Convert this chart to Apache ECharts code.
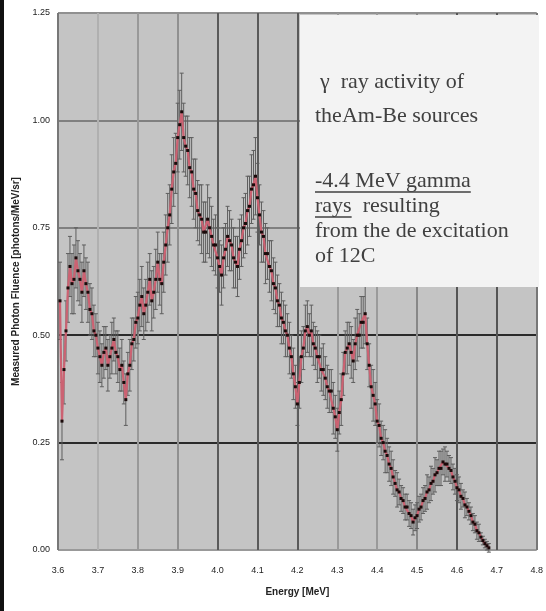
<!DOCTYPE html>
<html>
<head>
<meta charset="utf-8">
<script src="https://cdn.jsdelivr.net/npm/echarts@6/dist/echarts.min.js"></script>
<style>html,body{margin:0;padding:0;background:#fff}#c{width:546px;height:611px}</style>
</head>
<body>
<div id="c"></div>
<script>
var xTicks = ['3.6','3.7','3.8','3.9','4.0','4.1','4.2','4.3','4.4','4.5','4.6','4.7','4.8'];
var yTicks = ['0.00','0.25','0.50','0.75','1.00','1.25'];
var energies = [3.605,3.610,3.615,3.620,3.625,3.630,3.635,3.640,3.645,3.650,3.655,3.660,3.665,3.670,3.675,3.680,3.685,3.690,3.695,3.700,
3.705,3.710,3.715,3.720,3.725,3.730,3.735,3.740,3.745,3.750,3.755,3.760,3.765,3.770,3.775,3.780,3.785,3.790,3.795,3.800,
3.805,3.810,3.815,3.820,3.825,3.830,3.835,3.840,3.845,3.850,3.855,3.860,3.865,3.870,3.875,3.880,3.885,3.890,3.895,3.900,
3.905,3.910,3.915,3.920,3.925,3.930,3.935,3.940,3.945,3.950,3.955,3.960,3.965,3.970,3.975,3.980,3.985,3.990,3.995,4.000,
4.005,4.010,4.015,4.020,4.025,4.030,4.035,4.040,4.045,4.050,4.055,4.060,4.065,4.070,4.075,4.080,4.085,4.090,4.095,4.100,
4.105,4.110,4.115,4.120,4.125,4.130,4.135,4.140,4.145,4.150,4.155,4.160,4.165,4.170,4.175,4.180,4.185,4.190,4.195,4.200,
4.205,4.210,4.215,4.220,4.225,4.230,4.235,4.240,4.245,4.250,4.255,4.260,4.265,4.270,4.275,4.280,4.285,4.290,4.295,4.300,
4.305,4.310,4.315,4.320,4.325,4.330,4.335,4.340,4.345,4.350,4.355,4.360,4.365,4.370,4.375,4.380,4.385,4.390,4.395,4.400,
4.405,4.410,4.415,4.420,4.425,4.430,4.435,4.440,4.445,4.450,4.455,4.460,4.465,4.470,4.475,4.480,4.485,4.490,4.495,4.500,
4.505,4.510,4.515,4.520,4.525,4.530,4.535,4.540,4.545,4.550,4.555,4.560,4.565,4.570,4.575,4.580,4.585,4.590,4.595,4.600,
4.605,4.610,4.615,4.620,4.625,4.630,4.635,4.640,4.645,4.650,4.655,4.660,4.665,4.670,4.675,4.680];
var fluence = [0.58,0.30,0.42,0.51,0.61,0.66,0.62,0.63,0.68,0.65,0.63,0.60,0.65,0.62,0.60,0.56,0.55,0.51,0.50,0.47,
0.45,0.43,0.46,0.47,0.43,0.45,0.47,0.49,0.46,0.45,0.42,0.43,0.39,0.35,0.41,0.43,0.48,0.49,0.53,0.54,
0.57,0.59,0.55,0.57,0.60,0.63,0.58,0.60,0.63,0.67,0.63,0.62,0.67,0.71,0.75,0.78,0.84,0.88,0.90,0.96,
0.99,1.02,0.96,0.94,0.93,0.89,0.88,0.84,0.83,0.79,0.78,0.77,0.74,0.74,0.77,0.75,0.73,0.71,0.71,0.68,
0.66,0.64,0.68,0.70,0.73,0.72,0.71,0.68,0.67,0.66,0.70,0.72,0.75,0.76,0.79,0.80,0.84,0.85,0.87,0.82,
0.78,0.74,0.73,0.69,0.69,0.66,0.65,0.62,0.61,0.58,0.57,0.54,0.53,0.51,0.50,0.47,0.45,0.41,0.38,0.34,
0.39,0.45,0.47,0.51,0.52,0.50,0.51,0.48,0.47,0.45,0.45,0.42,0.42,0.40,0.38,0.37,0.37,0.33,0.31,0.28,
0.32,0.35,0.41,0.46,0.47,0.48,0.46,0.44,0.48,0.50,0.50,0.53,0.53,0.55,0.48,0.43,0.38,0.36,0.34,0.30,
0.29,0.26,0.25,0.23,0.22,0.20,0.19,0.17,0.155,0.14,0.135,0.12,0.115,0.10,0.10,0.085,0.08,0.065,0.075,0.08,
0.095,0.10,0.115,0.12,0.135,0.14,0.155,0.16,0.175,0.18,0.19,0.19,0.205,0.20,0.20,0.19,0.185,0.17,0.16,0.145,
0.14,0.125,0.12,0.105,0.10,0.09,0.08,0.065,0.06,0.045,0.04,0.03,0.022,0.015,0.01,0.005];
var errors = [0.09,0.09,0.08,0.07,0.08,0.07,0.07,0.08,0.07,0.07,0.06,0.07,0.06,0.06,0.07,0.06,0.06,0.06,0.05,0.06,
0.06,0.05,0.06,0.05,0.06,0.05,0.06,0.05,0.05,0.06,0.05,0.06,0.05,0.06,0.05,0.06,0.06,0.05,0.06,0.06,
0.06,0.07,0.06,0.06,0.07,0.06,0.07,0.06,0.07,0.07,0.06,0.07,0.07,0.07,0.08,0.07,0.08,0.08,0.07,0.08,
0.08,0.09,0.08,0.07,0.08,0.07,0.08,0.07,0.08,0.07,0.07,0.08,0.07,0.07,0.08,0.07,0.07,0.06,0.07,0.07,
0.06,0.07,0.07,0.06,0.07,0.07,0.06,0.07,0.06,0.07,0.07,0.06,0.07,0.07,0.08,0.07,0.08,0.08,0.09,0.08,
0.07,0.07,0.06,0.07,0.06,0.06,0.07,0.06,0.06,0.06,0.05,0.06,0.05,0.06,0.05,0.06,0.05,0.06,0.05,0.05,
0.06,0.06,0.05,0.06,0.06,0.05,0.06,0.05,0.05,0.06,0.05,0.05,0.06,0.05,0.05,0.05,0.05,0.06,0.05,0.05,
0.05,0.06,0.05,0.05,0.06,0.05,0.06,0.05,0.06,0.06,0.05,0.06,0.06,0.07,0.06,0.05,0.05,0.06,0.05,0.05,
0.05,0.04,0.04,0.05,0.04,0.04,0.04,0.04,0.03,0.04,0.03,0.03,0.03,0.03,0.03,0.03,0.03,0.03,0.03,0.03,
0.03,0.03,0.03,0.03,0.04,0.03,0.04,0.03,0.04,0.03,0.04,0.04,0.03,0.04,0.03,0.03,0.03,0.03,0.03,0.03,
0.03,0.03,0.02,0.03,0.02,0.02,0.02,0.02,0.02,0.02,0.02,0.01,0.01,0.01,0.01,0.01];
var boxLines = ['\u03b3  ray activity of', 'theAm-Be sources', '', '-4.4 MeV gamma', 'rays  resulting', 'from the de excitation', 'of 12C'];
var underlined = ['', '', '', '-4.4 MeV gamma', 'rays', '', ''];

var pts = energies.map(function (e, i) { return [e, fluence[i]]; });
var errData = energies.map(function (e, i) { return [e, fluence[i] - errors[i], fluence[i] + errors[i]]; });

var chart = echarts.init(document.getElementById('c'), null, {renderer: 'canvas'});
var vColors = ['#777','#b0b0b0','#999','#909090','#5a5a5a','#5a5a5a','#5a5a5a','#9a9a9a','#9a9a9a','#888','#555','#555','#777'];
var hColors = ['#999','#2a2a2a','#2a2a2a','#808080','#808080','#909090'];

var boxFont = '22px "Liberation Serif", serif';
var mc = document.createElement('canvas').getContext('2d');
mc.font = boxFont;

var g = [];
g.push({type:'rect', shape:{x:0,y:0,width:4,height:611}, style:{fill:'#111'}, z:100});
g.push({type:'rect', shape:{x:300,y:15,width:239,height:272}, style:{fill:'#f3f3f3'}, z:50});
var ty = [82,116,150,181,206,231,256];
boxLines.forEach(function (t, i) {
  if (!t) return;
  var x0 = (i === 0 ? 320 : 315);
  g.push({type:'text', x: x0, y: ty[i], z: 51,
    style:{text:t, fill:'#404040', font: boxFont, textVerticalAlign:'middle'}});
  if (underlined[i]) {
    var w = mc.measureText(underlined[i]).width;
    g.push({type:'line', shape:{x1:x0,y1:ty[i]+11,x2:x0+w,y2:ty[i]+11}, style:{stroke:'#404040', lineWidth:1.5}, z:51});
  }
});

chart.setOption({
  animation: false,
  backgroundColor: '#fff',
  grid: {left: 58, right: 7, top: 13, bottom: 61, show: true, backgroundColor: '#c4c4c4', borderWidth: 0},
  xAxis: {
    type: 'value', min: 3.6, max: 4.8, interval: 0.1,
    name: 'Energy [MeV]', nameLocation: 'middle', nameGap: 37,
    nameTextStyle: {fontSize: 10, fontWeight: 'bold', color: '#222', fontFamily: 'Liberation Sans'},
    axisLine: {show: false}, axisTick: {show: false},
    axisLabel: {fontSize: 9, color: '#222', margin: 16, fontFamily: 'Liberation Sans',
      formatter: function (v) { var k = Math.round((v - 3.6) * 10); return xTicks[k] || ''; }},
    splitLine: {show: true, lineStyle: {color: vColors, width: 2}}
  },
  yAxis: {
    type: 'value', min: 0, max: 1.25, interval: 0.25,
    name: 'Measured Photon Fluence [photons/MeV/sr]', nameLocation: 'middle', nameGap: 33,
    nameTextStyle: {fontSize: 10, fontWeight: 'bold', color: '#222', fontFamily: 'Liberation Sans'},
    axisLine: {show: false}, axisTick: {show: false},
    axisLabel: {fontSize: 9, color: '#222', margin: 8, fontFamily: 'Liberation Sans',
      formatter: function (v) { var k = Math.round(v / 0.25); return yTicks[k] || ''; }},
    splitLine: {show: true, lineStyle: {color: hColors, width: 2}}
  },
  graphic: g,
  series: [
    {
      type: 'custom', z: 3,
      renderItem: function (params, api) {
        var x = api.value(0);
        var lo = api.coord([x, api.value(1)]);
        var hi = api.coord([x, api.value(2)]);
        var st = {stroke: '#5e5e5e', lineWidth: 1};
        return {type: 'group', children: [
          {type: 'line', shape: {x1: lo[0], y1: lo[1], x2: hi[0], y2: hi[1]}, style: st},
          {type: 'line', shape: {x1: lo[0]-2, y1: lo[1], x2: lo[0]+2, y2: lo[1]}, style: st},
          {type: 'line', shape: {x1: hi[0]-2, y1: hi[1], x2: hi[0]+2, y2: hi[1]}, style: st}
        ]};
      },
      encode: {x: 0, y: [1, 2]},
      data: errData
    },
    {
      type: 'line', z: 4, data: pts,
      lineStyle: {color: '#cc6272', width: 2.2},
      symbol: 'rect', symbolSize: 3, showSymbol: true,
      itemStyle: {color: '#1a0a0a'}
    }
  ]
});
</script>
</body>
</html>
